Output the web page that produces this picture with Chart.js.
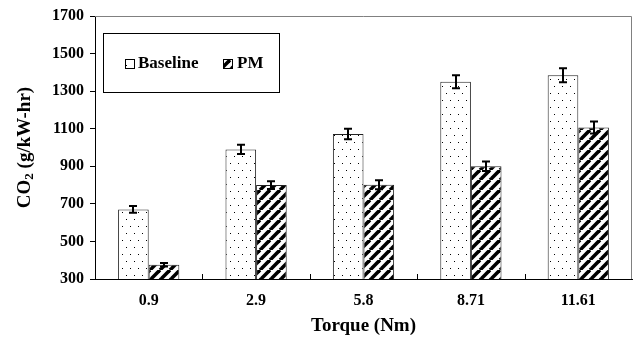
<!DOCTYPE html>
<html>
<head>
<meta charset="utf-8">
<script src="https://cdn.jsdelivr.net/npm/chart.js@4.4.0/dist/chart.umd.min.js"></script>
<style>
  html, body { margin: 0; padding: 0; background: #fff; }
  #wrap { width: 633px; height: 337px; }
</style>
</head>
<body>
<div id="wrap"><canvas id="co2Chart" width="633" height="337"></canvas></div>
<script>
const torque = ['0.9', '2.9', '5.8', '8.71', '11.61'];
const baseline = [670, 990, 1072, 1350, 1385];
const baselineErr = [18, 25, 28, 35, 37];
const pm = [376, 800, 802, 900, 1106];
const pmErr = [9, 21, 24, 25, 32];
const yTicks = [300, 500, 700, 900, 1100, 1300, 1500, 1700];

const FONT = '"Liberation Serif", "Times New Roman", serif';

// sparse staggered dots for the baseline bars
function dotPattern() {
  const c = document.createElement('canvas');
  c.width = 8; c.height = 14;
  const g = c.getContext('2d');
  g.fillStyle = '#fff';
  g.fillRect(0, 0, 8, 14);
  g.fillStyle = '#000';
  g.fillRect(2, 2, 1, 1);
  g.fillRect(6, 9, 1, 1);
  return g.createPattern(c, 'repeat');
}

// thick forward-slash hatching for the PM bars
function stripePattern() {
  const c = document.createElement('canvas');
  c.width = 10; c.height = 10;
  const g = c.getContext('2d');
  g.fillStyle = '#fff';
  g.fillRect(0, 0, 10, 10);
  g.strokeStyle = '#000';
  g.lineWidth = 3.6;
  for (const o of [-10, 0, 10]) {
    g.beginPath();
    g.moveTo(o, 10);
    g.lineTo(o + 10, 0);
    g.stroke();
  }
  return g.createPattern(c, 'repeat');
}

const dots = dotPattern();
const stripes = stripePattern();

const errorBars = {
  id: 'errorBars',
  afterDatasetsDraw(chart) {
    const ctx = chart.ctx;
    const y = chart.scales.y;
    ctx.save();
    ctx.strokeStyle = '#000';
    ctx.lineWidth = 2;
    chart.data.datasets.forEach((ds, di) => {
      chart.getDatasetMeta(di).data.forEach((bar, i) => {
        const hi = y.getPixelForValue(ds.data[i] + ds.errors[i]);
        const lo = y.getPixelForValue(ds.data[i] - ds.errors[i]);
        const x = Math.round(bar.x);
        ctx.beginPath();
        ctx.moveTo(x, hi); ctx.lineTo(x, lo);
        ctx.moveTo(x - 4, hi); ctx.lineTo(x + 4, hi);
        ctx.moveTo(x - 4, lo); ctx.lineTo(x + 4, lo);
        ctx.stroke();
      });
    });
    ctx.restore();
  }
};

const frame = {
  id: 'frame',
  afterDraw(chart) {
    const {ctx, chartArea: a} = chart;
    const x = chart.scales.x;
    ctx.save();
    // light top and right edges of the plot box
    ctx.strokeStyle = '#808080';
    ctx.lineWidth = 1;
    ctx.beginPath();
    ctx.moveTo(a.left, a.top + 0.5);
    ctx.lineTo(a.right - 0.5, a.top + 0.5);
    ctx.lineTo(a.right - 0.5, a.bottom);
    ctx.stroke();
    // short inward ticks between categories
    ctx.strokeStyle = '#000';
    ctx.beginPath();
    for (let i = 0; i < torque.length - 1; i++) {
      const bx = Math.round((x.getPixelForTick(i) + x.getPixelForTick(i + 1)) / 2) + 0.5;
      ctx.moveTo(bx, a.bottom);
      ctx.lineTo(bx, a.bottom - 5);
    }
    ctx.stroke();

    // y axis title with subscript
    ctx.fillStyle = '#000';
    ctx.textBaseline = 'middle';
    const big = 'bold 19px ' + FONT;
    const small = 'bold 13px ' + FONT;
    ctx.font = big;
    const wCO = ctx.measureText('CO').width;
    const wRest = ctx.measureText(' (g/kW-hr)').width;
    ctx.font = small;
    const w2 = ctx.measureText('2').width;
    const total = wCO + w2 + wRest;
    ctx.translate(25, (a.top + a.bottom) / 2);
    ctx.rotate(-Math.PI / 2);
    let tx = -total / 2;
    ctx.textAlign = 'left';
    ctx.font = big;
    ctx.fillText('CO', tx, 0);
    tx += wCO;
    ctx.font = small;
    ctx.fillText('2', tx, 5);
    tx += w2;
    ctx.font = big;
    ctx.fillText(' (g/kW-hr)', tx, 0);
    ctx.restore();

    // legend box
    ctx.save();
    ctx.fillStyle = '#fff';
    ctx.fillRect(103, 33, 176, 59);
    ctx.strokeStyle = '#000';
    ctx.lineWidth = 1;
    ctx.strokeRect(103.5, 33.5, 176, 59);
    const items = [[125, 138], [223, 237]];
    ctx.font = 'bold 17px ' + FONT;
    ctx.textBaseline = 'middle';
    ctx.textAlign = 'left';
    chart.data.datasets.forEach((ds, i) => {
      const [ix, tx2] = items[i];
      ctx.fillStyle = ds.backgroundColor;
      ctx.fillRect(ix, 59, 9, 9);
      ctx.strokeStyle = '#000';
      ctx.strokeRect(ix + 0.5, 59.5, 9, 9);
      ctx.fillStyle = '#000';
      ctx.fillText(ds.label, tx2, 64);
    });
    ctx.restore();
  }
};

new Chart(document.getElementById('co2Chart'), {
  type: 'bar',
  data: {
    labels: torque,
    datasets: [
      {
        label: 'Baseline',
        data: baseline,
        errors: baselineErr,
        backgroundColor: dots,
        borderColor: '#222',
        borderWidth: 1
      },
      {
        label: 'PM',
        data: pm,
        errors: pmErr,
        backgroundColor: stripes,
        borderColor: '#222',
        borderWidth: 1
      }
    ]
  },
  options: {
    responsive: false,
    animation: false,
    events: [],
    layout: { padding: { left: 0, right: 1, top: 16, bottom: 0 } },
    datasets: { bar: { categoryPercentage: 0.57, barPercentage: 1.0 } },
    plugins: {
      legend: { display: false },
      tooltip: { enabled: false }
    },
    scales: {
      x: {
        grid: { display: false },
        border: { display: true, color: '#000', width: 1 },
        ticks: {
          color: '#000',
          padding: 4,
          font: { family: FONT, size: 16, weight: 'bold' }
        },
        title: {
          display: true,
          text: 'Torque (Nm)',
          color: '#000',
          padding: { top: 0, bottom: 0 },
          font: { family: FONT, size: 19, weight: 'bold' }
        },
        afterFit(s) { s.height = 58; }
      },
      y: {
        min: 300,
        max: 1700,
        afterBuildTicks(s) { s.ticks = yTicks.map(v => ({ value: v })); },
        grid: { drawOnChartArea: false, drawTicks: true, tickLength: 5, color: '#000' },
        border: { display: true, color: '#000', width: 1 },
        ticks: {
          color: '#000',
          padding: 6,
          callback: v => String(v),
          font: { family: FONT, size: 16, weight: 'bold' }
        },
        afterFit(s) { s.width = 95; }
      }
    }
  },
  plugins: [errorBars, frame]
});
</script>
</body>
</html>
